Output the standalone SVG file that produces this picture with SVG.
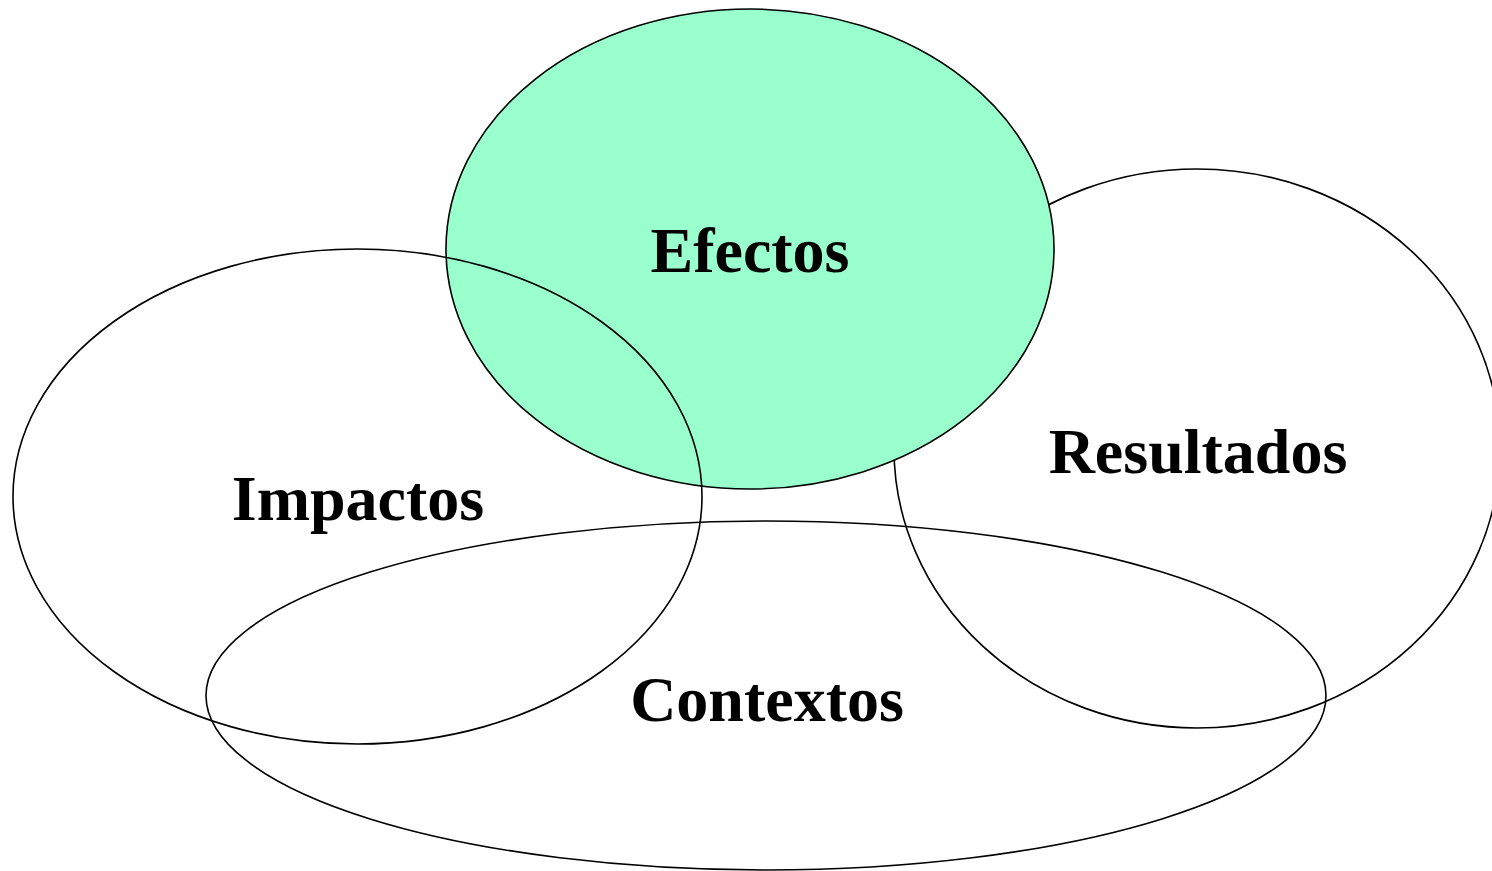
<svg xmlns="http://www.w3.org/2000/svg" width="1492" height="871" viewBox="0 0 1492 871">
<style>
.o{fill:none;stroke:#000;stroke-width:1.6}
.t{font-family:"Liberation Serif","Times New Roman",serif;font-weight:bold;font-size:64px;fill:#000;text-anchor:middle}
</style>
<rect width="1492" height="871" fill="#fff"/>
<g id="resultados">
<ellipse class="o" cx="1197" cy="448.5" rx="303" ry="279.5"/>
<text class="t" x="1198" y="473">Resultados</text>
</g>
<g id="efectos">
<ellipse cx="750" cy="249" rx="304" ry="240" fill="#99ffcc" stroke="#000" stroke-width="1.6"/>
<text class="t" x="750" y="272">Efectos</text>
</g>
<g id="impactos">
<ellipse class="o" cx="357.5" cy="496.5" rx="344.5" ry="247.5"/>
<text class="t" x="358" y="520">Impactos</text>
</g>
<g id="contextos">
<ellipse class="o" cx="766" cy="695.5" rx="560" ry="174.5"/>
<text class="t" x="767" y="721">Contextos</text>
</g>
<g id="connectors"></g>
</svg>
